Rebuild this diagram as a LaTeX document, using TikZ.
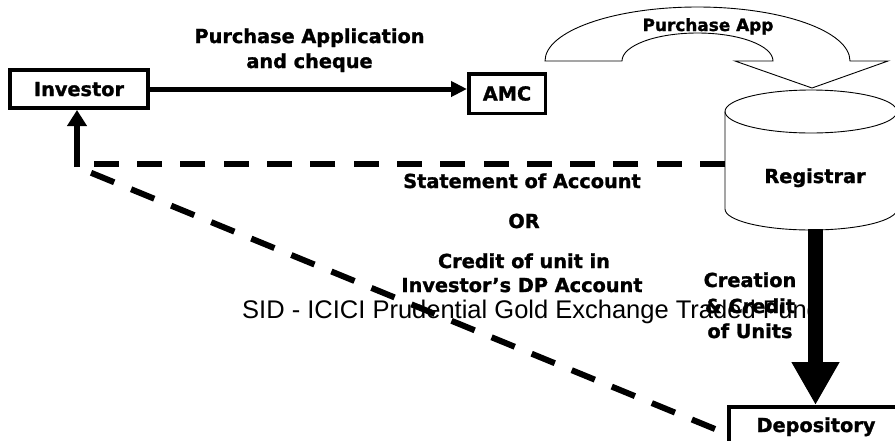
\documentclass[tikz,border=0pt]{standalone}
\usepackage{fontspec}
\setmainfont{DejaVu Sans}[BoldFeatures={FakeBold=1.3}]
\newfontfamily\footfont{Liberation Sans}
\usetikzlibrary{arrows.meta}
\begin{document}
\begin{tikzpicture}[x=1pt,y=-1pt,
  lbl/.style={font=\bfseries\fontsize{19.3}{23}\selectfont, anchor=base, inner sep=0pt},
  boxnode/.style={draw, line width=4pt, font=\bfseries\fontsize{19.3}{23}\selectfont, text height=14pt, text depth=0pt, inner sep=0pt},
  dashline/.style={line width=6pt, dash pattern=on 25pt off 18.3pt},
  outl/.style={line width=0.9pt},
  thickarrow/.style={line width=5pt, -{Triangle[width=15pt,length=16pt]}}
]
\useasboundingbox (0,0) rectangle (895,440);
% footer text (behind everything)
\node[anchor=base west, inner sep=0pt, font=\footfont\fontsize{25.5}{30}\selectfont] (foot) at (242,318) {SID - ICICI Prudential Gold Exchange Traded Fund};

% boxes
\node[boxnode, minimum width=138pt, minimum height=38pt] (inv) at (79,89) {Investor};
\node[boxnode, line width=3.5pt, minimum width=76.5pt, minimum height=39.5pt] (amc) at (507,93.5) {AMC};
\node[boxnode, minimum width=174pt, minimum height=36pt, anchor=north west] (dep) at (727,405) {Depository};

% registrar cylinder
\draw[outl] (725,111.5) arc[start angle=180,end angle=-180,x radius=86pt,y radius=21.5pt];
\draw[outl] (725,111.5) -- (725,209) arc[start angle=180,end angle=360,x radius=86pt,y radius=21pt] -- (897,111.5);
\node[lbl] (reg) at (815,183) {Registrar};
\coordinate (regw) at (725,164);
\coordinate (regs) at (815.5,229);

% curved block arrow
\draw[outl] (545,61) arc[start angle=180,end angle=0,x radius=152.5pt,y radius=54pt]
  -- (888,61) -- (812,88) -- (735,61) -- (773,61)
  arc[start angle=0,end angle=180,x radius=75.5pt,y radius=28pt] -- cycle;

% labels
\node[lbl] (pa1) at (309.5,43) {Purchase Application};
\node[lbl] (pa2) at (309.5,68) {and cheque};
\node[lbl, font=\bfseries\fontsize{16.9}{20}\selectfont] (papp) at (708,31) {Purchase App};
\node[lbl] (s1) at (522,188) {Statement of Account};
\node[lbl] (s2) at (524,228) {OR};
\node[lbl] (s3) at (524,268) {Credit of unit in};
\node[lbl] (s4) at (522,292) {Investor’s DP Account};
\node[lbl] (c1) at (750,287) {Creation};
\node[lbl] (c2) at (750,313) {\& Credit};
\node[lbl] (c3) at (750,338) {of Units};

% connectors
\coordinate (junc) at (77,167);
\coordinate (depw) at (715,429);
\draw[thickarrow] (inv.east) -- (inv.east -| amc.west);
\draw[line width=5.5pt, -{Triangle[width=19pt,length=16pt]}] (junc) -- (junc |- inv.south);
\draw[dashline] (regw) -- (regw -| junc);
\draw[dashline] (depw) -- (junc);
\draw[line width=15pt, -{Triangle[width=45pt,length=43pt]}] (regs) -- (regs |- dep.north);
\end{tikzpicture}
\end{document}
